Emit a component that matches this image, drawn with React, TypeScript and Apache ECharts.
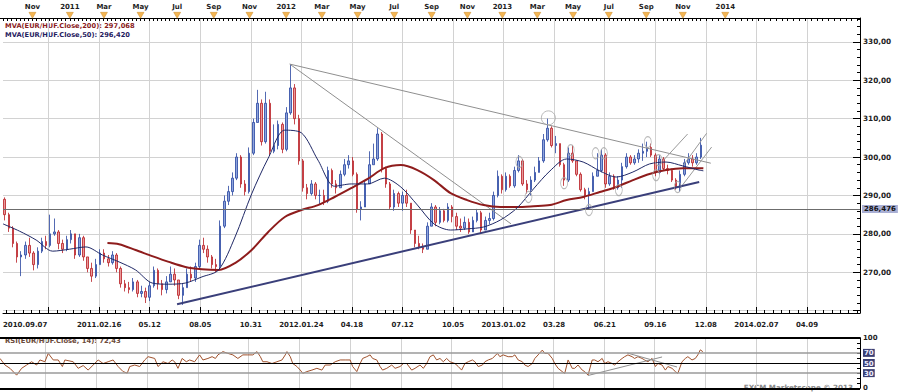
import React, { useEffect, useRef } from 'react';
import * as echarts from 'echarts';

const FONT = 'DejaVu Sans';

// ---------------- data ----------------
// one bar per trading week: open of a week is the previous week's close
const FIRST_OPEN = 289.0;
const WEEK_CLOSE = [
  285.0, 281.5, 277.5, 274.0, 274.5, 277.0, 275.0, 272.0, 275.5, 278.0,
  277.0, 280.0, 280.5, 277.5, 276.0, 278.5, 280.0, 274.5, 279.0, 274.0,
  271.0, 269.0, 272.0, 275.0, 273.5, 272.5, 274.5, 271.0, 267.0, 266.0,
  265.5, 267.5, 264.5, 265.0, 263.5, 266.5, 270.5, 267.0, 265.5, 267.5,
  269.5, 268.0, 264.0, 266.0, 269.5, 268.5, 271.5, 277.0, 276.0, 274.0,
  272.0, 271.5, 282.0, 288.5, 291.0, 294.5, 300.0, 293.0, 291.0, 301.0,
  309.0, 314.0, 304.0, 314.0, 301.5, 303.0, 308.5, 302.0, 311.5, 318.0,
  310.0, 299.0, 292.0, 290.5, 293.0, 290.0, 290.0, 288.5, 296.5, 293.0,
  292.0, 295.5, 298.0, 299.0, 295.5, 286.5, 287.0, 293.0, 298.0, 299.5,
  306.0, 297.0, 293.0, 287.0, 290.5, 288.0, 290.0, 288.0, 281.0, 277.5,
  276.5, 276.0, 282.0, 287.0, 283.0, 286.0, 283.5, 287.0, 284.5, 282.0,
  281.5, 283.0, 280.5, 283.5, 285.5, 281.0, 283.5, 284.0, 290.0, 295.0,
  291.5, 295.0, 292.5, 296.5, 299.0, 293.0, 291.5, 294.0, 296.0, 299.0,
  304.5, 307.5, 303.0, 303.5, 298.0, 294.0, 301.0, 299.0, 295.5, 291.5,
  290.0, 291.0, 295.0, 296.5, 300.5, 293.0, 295.0, 292.0, 294.0, 297.5,
  300.0, 298.5, 299.5, 301.0, 301.5, 302.5, 300.5, 296.0, 299.5, 297.0,
  296.5, 294.0, 292.0, 295.5, 298.5, 299.5, 298.5, 300.0, 303.082,
];
const WEEK_LOW = [
  283.5, 280.5, 276.5, 272.5, 269.0, 273.5, 274.0, 270.5, 271.0, 275.0,
  276.0, 276.5, 279.5, 276.0, 275.0, 275.5, 277.5, 273.5, 274.0, 273.0,
  270.0, 267.5, 268.5, 272.0, 272.5, 271.5, 272.0, 270.0, 266.0, 265.0,
  264.5, 265.0, 263.5, 263.5, 262.0, 262.5, 266.0, 265.5, 264.0, 264.5,
  267.5, 266.5, 263.0, 261.5, 266.0, 267.5, 267.5, 271.0, 275.0, 272.5,
  271.0, 270.0, 270.5, 281.5, 287.5, 290.0, 294.0, 292.0, 290.0, 290.5,
  300.5, 309.0, 303.0, 303.5, 300.5, 301.0, 302.0, 301.0, 301.5, 311.0,
  308.5, 298.0, 291.0, 289.0, 290.0, 289.0, 287.5, 287.5, 288.0, 292.0,
  290.5, 292.0, 295.0, 297.0, 295.0, 285.5, 283.5, 287.0, 293.0, 298.0,
  299.0, 296.0, 292.0, 286.5, 286.0, 287.0, 286.0, 287.0, 280.0, 276.5,
  276.0, 275.0, 276.0, 282.0, 282.0, 282.5, 283.0, 283.0, 283.0, 281.0,
  280.5, 281.0, 280.0, 280.5, 283.0, 280.0, 281.0, 282.5, 283.5, 289.5,
  290.5, 291.0, 292.0, 292.0, 296.0, 292.5, 290.5, 290.0, 293.5, 296.0,
  298.5, 304.0, 302.5, 301.0, 297.5, 292.5, 293.5, 298.5, 295.0, 291.0,
  289.0, 286.5, 291.0, 295.0, 296.0, 292.0, 292.5, 291.5, 291.5, 292.0,
  297.0, 298.0, 298.0, 298.5, 299.0, 300.0, 300.0, 295.0, 295.5, 296.5,
  295.5, 293.5, 291.5, 291.0, 295.0, 298.0, 297.5, 298.0, 299.5,
];
const WEEK_HIGH = [
  289.5, 285.5, 282.0, 278.0, 275.5, 278.0, 279.0, 275.5, 276.5, 279.0,
  279.5, 285.0, 284.0, 281.0, 278.5, 279.5, 281.0, 280.0, 280.0, 279.5,
  274.0, 272.5, 273.5, 276.0, 276.0, 274.5, 275.5, 275.0, 271.5, 268.0,
  267.5, 268.5, 268.0, 266.5, 266.0, 267.5, 271.5, 271.0, 268.0, 269.0,
  271.5, 271.0, 268.0, 267.0, 271.0, 271.5, 272.5, 278.5, 279.0, 277.0,
  274.5, 273.5, 283.5, 290.0, 292.5, 296.0, 301.0, 300.5, 294.0, 302.5,
  310.0, 317.5, 315.0, 317.0, 315.0, 308.5, 309.5, 309.0, 313.0, 324.0,
  319.0, 311.0, 299.5, 293.0, 294.0, 293.5, 291.5, 291.5, 297.5, 297.0,
  294.0, 296.5, 299.5, 300.5, 300.0, 296.0, 288.5, 294.0, 301.5, 303.5,
  307.5, 306.5, 297.5, 293.5, 291.5, 291.0, 291.0, 291.5, 288.0, 281.0,
  279.5, 277.5, 283.0, 288.0, 287.5, 287.0, 286.5, 288.0, 287.5, 285.5,
  284.0, 284.5, 284.0, 284.5, 286.5, 286.0, 284.5, 285.5, 291.0, 296.5,
  295.5, 296.0, 295.5, 297.5, 300.5, 299.5, 294.0, 295.0, 297.5, 300.0,
  306.0, 310.0, 308.0, 305.5, 303.5, 298.5, 302.5, 303.0, 299.0, 296.0,
  292.0, 292.0, 296.0, 301.0, 302.0, 301.0, 296.0, 295.5, 295.0, 298.5,
  301.0, 300.5, 300.5, 302.0, 303.5, 304.0, 303.5, 301.0, 300.5, 300.0,
  298.0, 297.0, 294.5, 296.5, 299.5, 301.0, 300.5, 301.0, 305.0,
];

// moving averages: [trading-day index, value]
const MA50_POINTS = [
  [0, 282.6], [20, 280.7], [40, 278.4], [60, 275.5], [80, 276.0], [100, 276.6], [120, 274.5],
  [140, 272.7], [160, 270.6], [180, 267.2], [200, 266.9], [220, 267.2], [240, 268.8], [260, 270.6],
  [280, 279.2], [300, 290.4], [320, 299.7], [340, 307.0], [360, 306.3], [380, 299.2], [400, 292.4],
  [420, 293.0], [440, 293.0], [460, 294.5], [480, 292.2], [500, 287.5], [520, 282.6], [540, 281.0],
  [560, 281.3], [580, 281.8], [600, 283.6], [620, 286.7], [640, 291.7], [660, 296.4], [680, 299.5],
  [700, 298.7], [720, 296.4], [740, 294.8], [760, 296.1], [780, 298.2], [800, 298.7], [820, 297.7],
  [840, 296.6], [845, 296.42],
];
const MA200_POINTS = [
  [126, 277.6], [140, 277.3], [160, 275.8], [180, 274.2], [200, 272.7], [220, 271.4], [240, 270.8],
  [260, 270.6], [280, 272.4], [300, 275.8], [320, 280.5], [340, 284.4], [360, 286.2], [380, 287.5],
  [400, 289.6], [420, 291.9], [440, 294.3], [460, 297.1], [480, 297.9], [500, 296.6], [520, 294.0],
  [540, 290.6], [560, 288.8], [580, 287.5], [600, 287.0], [620, 287.0], [640, 287.2], [660, 287.5],
  [680, 288.8], [700, 289.6], [720, 290.9], [740, 292.2], [760, 294.0], [780, 295.6], [800, 296.6],
  [820, 297.1], [840, 297.1], [845, 297.068],
];

// RSI(14): [trading-day index, value]
const RSI_POINTS = [
  [0, 59], [6, 46], [12, 39.5], [20, 26], [26, 39.5], [32, 46], [38, 52.5], [44, 46], [48, 56], [54, 52.5],
  [58, 69], [64, 56], [70, 56], [75, 43], [78, 56], [88, 52.5], [94, 39.5], [100, 45], [106, 36], [112, 46],
  [118, 56], [124, 49], [130, 52.5], [136, 56], [142, 43], [148, 33], [153, 30], [156, 43], [162, 46], [168, 43],
  [174, 56], [178, 62.5], [186, 59], [190, 43], [196, 52.5], [202, 49], [207, 56], [210, 52.5], [214, 39.5], [219, 59],
  [224, 52.5], [228, 56], [234, 52.5], [240, 66], [244, 56], [250, 59], [255, 62.5], [259, 59], [262, 66], [268, 72.5],
  [274, 69], [280, 66], [286, 59], [292, 66], [298, 66], [304, 66], [309, 72.5], [313, 62.5], [316, 52.5], [321, 52.5],
  [327, 49], [333, 52.5], [339, 56], [343, 66], [345, 72.5], [349, 62.5], [352, 49], [357, 43], [361, 36], [364, 29.5],
  [369, 33], [375, 36], [381, 39.5], [387, 36], [391, 46], [397, 46], [403, 52.5], [409, 56], [415, 56], [421, 56],
  [424, 43], [429, 33], [433, 49], [436, 59], [441, 62.5], [445, 66], [448, 59], [453, 56], [457, 43], [460, 36],
  [465, 39.5], [471, 46], [475, 39.5], [481, 43], [485, 49], [489, 49], [495, 36], [499, 39.5], [505, 46], [509, 39.5],
  [513, 49], [517, 62.5], [521, 66], [525, 56], [529, 59], [533, 52.5], [537, 59], [541, 52.5], [547, 49], [551, 43],
  [555, 36], [559, 49], [563, 52.5], [568, 56], [571, 52.5], [575, 43], [580, 46], [583, 52.5], [587, 56], [592, 59],
  [598, 69], [601, 62.5], [605, 66], [611, 62.5], [616, 62.5], [619, 66], [623, 56], [628, 52.5], [631, 46], [635, 43],
  [640, 49], [643, 59], [647, 66], [652, 75.5], [655, 69], [659, 69], [664, 59], [667, 49], [671, 39.5], [676, 33],
  [679, 29.5], [683, 56], [688, 39.5], [691, 39.5], [695, 46], [700, 36], [703, 33], [707, 26], [712, 56], [715, 56],
  [719, 52.5], [724, 59], [727, 49], [731, 52.5], [736, 49], [739, 46], [743, 52.5], [748, 59], [751, 62.5], [755, 66],
  [760, 62.5], [763, 59], [767, 62.5], [772, 59], [775, 56], [779, 52.5], [784, 59], [788, 43], [791, 49], [796, 46],
  [800, 36], [803, 43], [808, 39.5], [812, 33], [815, 29.5], [820, 52.5], [824, 59], [827, 62.5], [832, 56], [836, 59],
  [839, 66], [842, 76], [845, 72.43],
];
const RSI_LEVELS = [0, 30, 50, 70, 100];

const H_LEVEL = 286.476;

// drawn trend lines: [trading-day index, value]
const TREND_UPPER = [[346, 324.2], [854, 298.4]];
const TREND_MID = [[346, 324.2], [613, 282.6]];
const TREND_SUPPORT = [[210, 261.7], [840, 293.5]];
const TREND_FAN_A = [[797, 299.2], [826, 306.0]];
const TREND_FAN_B = [[821, 297.9], [849, 306.2]];
const TREND_FAN_C = [[818, 292.2], [855, 302.6]];
const RSI_TREND_A = [[707, 25.3], [796, 61.9]];
const RSI_TREND_B = [[754, 69.8], [814, 42.1]];

// circled pivots
const PIVOTS = [
  [623, 298.7], [634, 289.6], [677, 293.2], [685, 301.8], [707, 286.2], [715, 301.0],
  [725, 301.0], [743, 291.4], [778, 303.9], [788, 295.3], [791, 299.2], [814, 292.2],
];
const PIVOT_TOP = [[658, 310.2]];

// ---------------- calendar of the axis ----------------
const START_DAY = '2010-09-07';
const LAST_BAR_DAY = '2013-12-05';
const SLOT_COUNT = 1035;
const LABEL_OFFSET = 55;
const LABEL_STEP = 61;
const LABEL_LAST = 1000;
const MONTH_LABEL_END = '2014-02';
const WEEK_FIRST_DAY = 2;
const WEEK_DAYS = 5;
const MONTHS = ['Jan', 'Feb', 'Mar', 'Apr', 'May', 'Jun', 'Jul', 'Aug', 'Sep', 'Oct', 'Nov', 'Dec'];

function buildDates(): string[] {
  const out: string[] = [];
  const dayMs = 86400000;
  let t = Date.parse(START_DAY + 'T00:00:00Z');
  while (out.length < SLOT_COUNT) {
    const d = new Date(t);
    const s = d.toISOString().slice(0, 10);
    const dow = d.getUTCDay();
    const md = s.slice(5);
    const trading = dow !== 0 && dow !== 6 && md !== '12-25' && md !== '01-01';
    if (s > LAST_BAR_DAY || trading) out.push(s);
    t += dayMs;
  }
  return out;
}
const DATES = buildDates();
const DOW = DATES.map((d) => new Date(d + 'T00:00:00Z').getUTCDay());

const isGrid = (i: number) => i >= LABEL_OFFSET && (i - LABEL_OFFSET) % LABEL_STEP === 0 && i <= LABEL_LAST;
const isBottomLabel = (i: number) => i === 0 || (isGrid(i) && i > LABEL_OFFSET);
const isMinor = (i: number) => {
  const m = (((i - LABEL_OFFSET) % LABEL_STEP) + LABEL_STEP) % LABEL_STEP;
  return m % 10 === 0 && m < 60;
};
const isMonthLabel = (i: number) =>
  i > 0 &&
  DATES[i].slice(5, 7) !== DATES[i - 1].slice(5, 7) &&
  Number(DATES[i].slice(5, 7)) % 2 === 1 &&
  DATES[i] < MONTH_LABEL_END;
const isWeekTick = (i: number) => DOW[i] === 1;

const comma = (v: number, d: number) => v.toFixed(d).replace('.', ',');

function buildOption() {
  const candles = WEEK_CLOSE.map((c, k) => [
    WEEK_FIRST_DAY + k * WEEK_DAYS,
    k === 0 ? FIRST_OPEN : WEEK_CLOSE[k - 1],
    c,
    WEEK_LOW[k],
    WEEK_HIGH[k],
  ]);
  const lastClose = WEEK_CLOSE[WEEK_CLOSE.length - 1];
  const monthIdx = DATES.map((_, i) => i).filter(isMonthLabel);

  const fmtBottom = (v: string, i: number) => {
    const [y, m, d] = v.split('-');
    const prev = i - LABEL_STEP;
    const showYear = prev < 0 || DATES[prev].slice(0, 4) !== y;
    return showYear ? `${y}.${m}.${d}` : `${m}.${d}`;
  };
  const fmtTop = (v: string) => {
    const m = Number(v.slice(5, 7));
    return m === 1 ? v.slice(0, 4) : MONTHS[m - 1];
  };
  const fmtPrice = (v: number) => {
    const r = Math.round(v);
    if (Math.abs(v - r) > 1e-6 || r % 10 !== 0 || r < 270) return '';
    return comma(r, 2);
  };
  const fmtRsi = (v: number) => {
    if (v === 30 || v === 50 || v === 70) return `{b|${v}}`;
    if (v === 0 || v === 100) return String(v);
    return '';
  };

  const trend = (data: number[][], color: string, width: number, xi = 0, yi = 0) => ({
    type: 'line',
    xAxisIndex: xi,
    yAxisIndex: yi,
    data,
    showSymbol: false,
    symbol: 'none',
    silent: true,
    z: 3,
    lineStyle: { color, width },
  });

  const label = { fontSize: 7, fontWeight: 'bold', color: '#1e1e1e', fontFamily: FONT };

  const priceBox = (bg: string) => ({
    show: true,
    position: 'end',
    distance: 2,
    backgroundColor: bg,
    color: '#111',
    padding: [1, 2, 0, 2],
    fontSize: 7,
    fontWeight: 'bold',
    fontFamily: FONT,
  });

  return {
    animation: false,
    backgroundColor: '#ffffff',
    textStyle: { fontFamily: FONT },
    grid: [
      { left: 0, top: 18, width: 860, height: 295 },
      { left: 0, top: 337.7, width: 860, height: 50.6 },
      { left: 0, top: 12, width: 860, height: 6 },
    ],
    xAxis: [
      {
        type: 'category', gridIndex: 0, data: DATES, boundaryGap: false, position: 'bottom',
        axisLine: { show: true, lineStyle: { color: '#000', width: 1 } },
        axisTick: { show: true, inside: true, length: 6, interval: isGrid, lineStyle: { color: '#000' } },
        axisLabel: {
          show: true, interval: isBottomLabel, formatter: fmtBottom, margin: 8, alignMinLabel: 'left', ...label,
        },
        splitLine: { show: true, interval: isGrid, lineStyle: { color: '#d2d2d2', width: 1 } },
      },
      {
        type: 'category', gridIndex: 1, data: DATES, boundaryGap: false, position: 'bottom',
        axisLine: { show: false }, axisTick: { show: false }, axisLabel: { show: false },
        splitLine: { show: true, interval: isGrid, lineStyle: { color: '#d2d2d2', width: 1 } },
      },
      {
        type: 'category', gridIndex: 2, data: DATES, boundaryGap: false, position: 'top',
        axisLine: { show: true, lineStyle: { color: '#000', width: 1 } },
        axisTick: { show: true, inside: true, length: 3, interval: isWeekTick, lineStyle: { color: '#000' } },
        axisLabel: { show: true, interval: isMonthLabel, formatter: fmtTop, margin: 2, ...label },
        splitLine: { show: false },
      },
      {
        type: 'category', gridIndex: 0, data: DATES, boundaryGap: false, position: 'bottom',
        axisLine: { show: false },
        axisTick: { show: true, inside: true, length: 3, interval: isMinor, lineStyle: { color: '#000' } },
        axisLabel: { show: false },
        splitLine: { show: false },
      },
    ],
    yAxis: [
      {
        type: 'value', gridIndex: 0, position: 'right', min: 259.4, max: 336.2, splitNumber: 8,
        axisLine: { show: true, lineStyle: { color: '#000', width: 1 } },
        axisTick: { show: true, inside: true, length: 7, lineStyle: { color: '#000' } },
        minorTick: { show: true, splitNumber: 5, length: 3, lineStyle: { color: '#000' } },
        axisLabel: { formatter: fmtPrice, margin: 3, ...label, fontSize: 7.3 },
        splitLine: { show: true, lineStyle: { color: '#d2d2d2', width: 1 } },
      },
      {
        type: 'value', gridIndex: 1, position: 'right', min: 0, max: 100, interval: 10,
        axisLine: { show: true, lineStyle: { color: '#000', width: 1 } },
        axisTick: { show: true, inside: true, length: 3, lineStyle: { color: '#000' } },
        axisLabel: {
          formatter: fmtRsi, margin: 3, ...label,
          rich: {
            b: {
              backgroundColor: '#3b3f73', color: '#eef', padding: [1, 1, 0, 1],
              fontSize: 7, fontWeight: 'bold', fontFamily: FONT,
            },
          },
        },
        splitLine: { show: false },
      },
      { type: 'value', gridIndex: 2, min: 0, max: 1, show: false },
    ],
    series: [
      {
        type: 'candlestick', name: 'EUR/HUF', xAxisIndex: 0, yAxisIndex: 0,
        data: candles, encode: { x: 0, y: [1, 2, 3, 4] }, barWidth: 2, z: 2,
        itemStyle: {
          color: '#8ea4dc', color0: '#e89a9a', borderColor: '#27449f', borderColor0: '#b81c22', borderWidth: 0.8,
        },
      },
      trend(TREND_UPPER, '#8f8f8f', 1),
      trend(TREND_MID, '#8f8f8f', 1),
      trend(TREND_FAN_A, '#9a9a9a', 1),
      trend(TREND_FAN_B, '#9a9a9a', 1),
      trend(TREND_FAN_C, '#9a9a9a', 1),
      trend(TREND_SUPPORT, '#3a3f7a', 2),
      {
        type: 'line', name: 'MA200', xAxisIndex: 0, yAxisIndex: 0, data: MA200_POINTS, smooth: 0.3,
        showSymbol: false, symbol: 'none', z: 4, clip: false,
        lineStyle: { color: '#8e1c1c', width: 2 },
        markLine: {
          silent: true, symbol: ['none', 'none'], animation: false,
          data: [
            { yAxis: H_LEVEL, lineStyle: { color: '#6c6c6c', width: 1, type: 'solid' }, label: { ...priceBox('#a9afd4'), formatter: comma(H_LEVEL, 3) } },
            { yAxis: lastClose, lineStyle: { color: '#ffffff', width: 0, opacity: 0 }, label: { ...priceBox('#a4daf2'), formatter: comma(lastClose, 3) } },
          ],
        },
      },
      {
        type: 'line', name: 'MA50', xAxisIndex: 0, yAxisIndex: 0, data: MA50_POINTS, smooth: 0.3,
        showSymbol: false, symbol: 'none', z: 4,
        lineStyle: { color: '#1f2866', width: 1 },
      },
      {
        type: 'scatter', xAxisIndex: 0, yAxisIndex: 0, data: PIVOTS, symbol: 'circle', symbolSize: [7, 11], z: 5,
        silent: true, itemStyle: { color: 'rgba(0,0,0,0)', borderColor: '#a8a8a8', borderWidth: 1 },
      },
      {
        type: 'scatter', xAxisIndex: 0, yAxisIndex: 0, data: PIVOT_TOP, symbol: 'circle', symbolSize: 14, z: 5,
        silent: true, itemStyle: { color: 'rgba(0,0,0,0)', borderColor: '#a8a8a8', borderWidth: 1 },
      },
      {
        type: 'line', name: 'RSI', xAxisIndex: 1, yAxisIndex: 1, data: RSI_POINTS, showSymbol: false,
        symbol: 'none', z: 3, clip: false, lineStyle: { color: '#a0522d', width: 1 },
        markLine: {
          silent: true, symbol: ['none', 'none'], animation: false, label: { show: false },
          data: RSI_LEVELS.map((v) => ({
            yAxis: v,
            lineStyle: {
              type: 'solid',
              color: v === 30 || v === 70 ? '#9a9a9a' : '#000',
              width: v === 0 || v === 100 ? 2 : v === 50 ? 1.2 : 1.5,
            },
          })),
        },
      },
      trend(RSI_TREND_A, '#8f8f8f', 1, 1, 1),
      trend(RSI_TREND_B, '#8f8f8f', 1, 1, 1),
      {
        type: 'scatter', xAxisIndex: 2, yAxisIndex: 2, data: monthIdx.map((i) => [i, 0.45]),
        symbol: 'triangle', symbolRotate: 180, symbolSize: [7, 6], silent: true, z: 5,
        itemStyle: { color: '#f0a329', borderColor: '#c07a10', borderWidth: 0.5 },
      },
    ],
    graphic: [
      {
        type: 'text', x: 5, y: 25.5, silent: true,
        style: {
          text: `MVA(EUR/HUF.Close,200): ${comma(MA200_POINTS[MA200_POINTS.length - 1][1], 3)}`,
          fill: '#8b1d1d', fontSize: 6.7, fontWeight: 'bold', fontFamily: FONT, verticalAlign: 'middle',
        },
      },
      {
        type: 'text', x: 5, y: 34.5, silent: true,
        style: {
          text: `MVA(EUR/HUF.Close,50): ${comma(MA50_POINTS[MA50_POINTS.length - 1][1], 3)}`,
          fill: '#1f2060', fontSize: 6.7, fontWeight: 'bold', fontFamily: FONT, verticalAlign: 'middle',
        },
      },
      {
        type: 'text', x: 5, y: 340.5, silent: true, z: 0,
        style: {
          text: `RSI(EUR/HUF.Close, 14): ${comma(RSI_POINTS[RSI_POINTS.length - 1][1], 2)}`,
          fill: '#6b4a3a', fontSize: 6.8, fontWeight: 'bold', fontFamily: FONT, verticalAlign: 'middle',
        },
      },
      {
        type: 'text', x: 853, y: 387, silent: true,
        style: {
          text: 'FXCM Marketscope © 2013', fill: '#8a8a8a', fontSize: 7.2, fontWeight: 'bold', fontFamily: FONT,
          align: 'right', verticalAlign: 'middle',
        },
      },
    ],
  };
}

export default function App() {
  const ref = useRef<HTMLDivElement>(null);
  useEffect(() => {
    if (!ref.current) return;
    const chart = echarts.init(ref.current, undefined, { renderer: 'svg' });
    chart.setOption(buildOption() as any);
    return () => chart.dispose();
  }, []);
  return (
    <div
      ref={ref}
      style={{ position: 'fixed', left: 0, top: 0, width: 900, height: 392, background: '#fff' }}
    />
  );
}
